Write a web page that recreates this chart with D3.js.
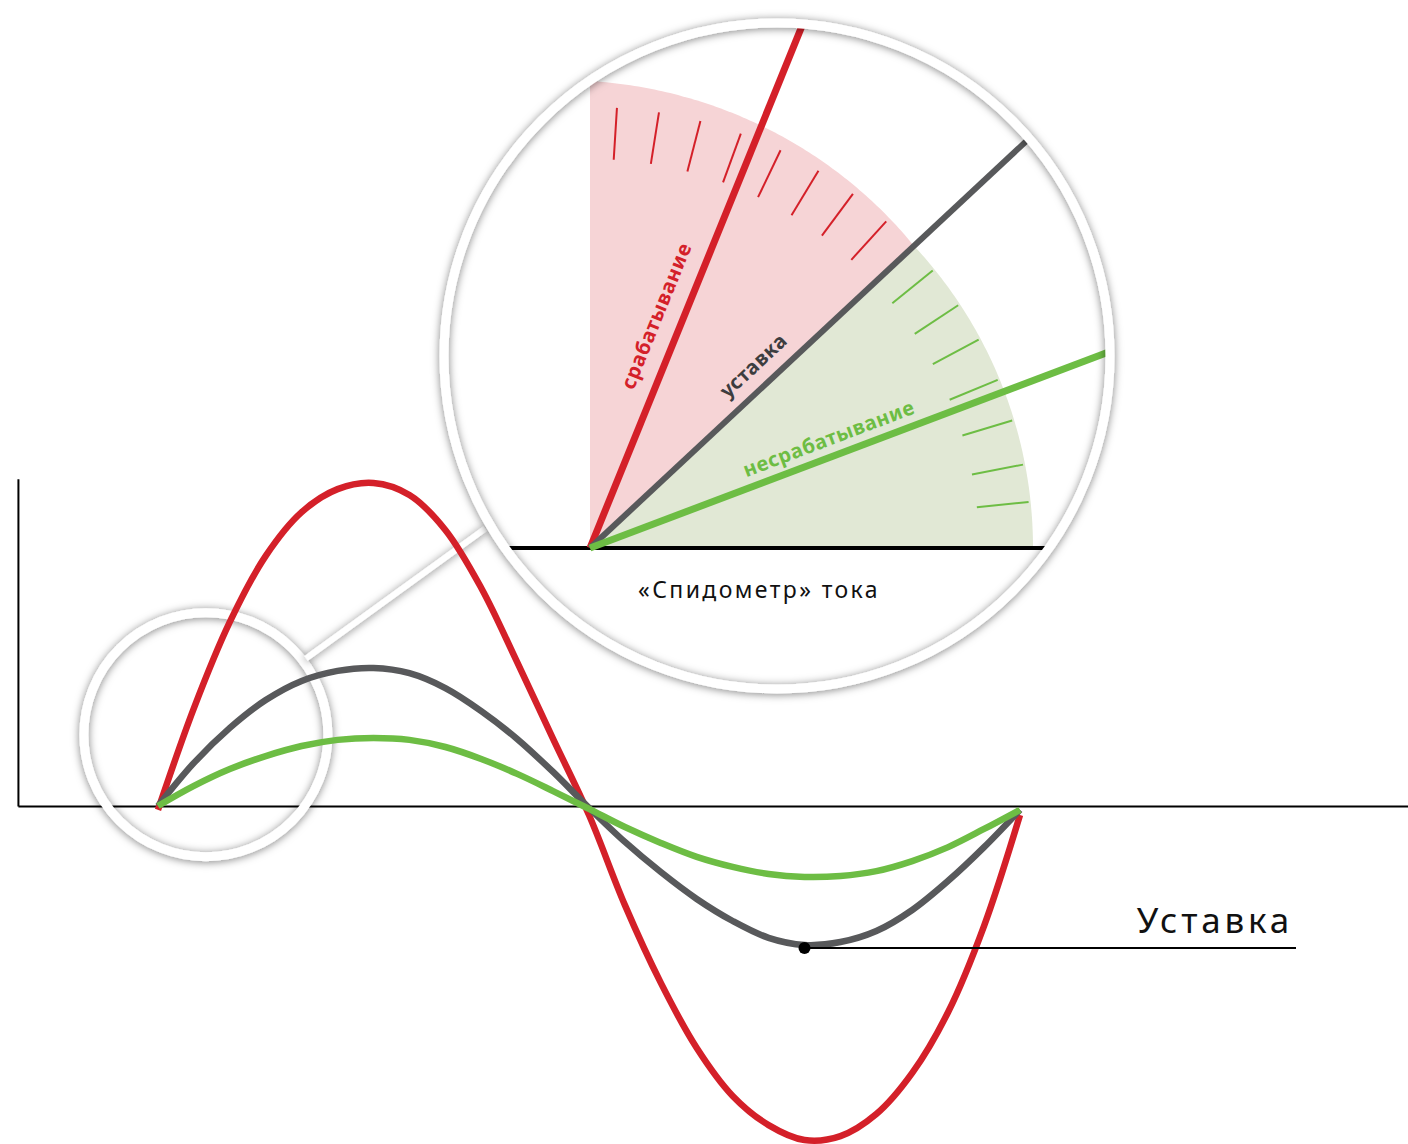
<!DOCTYPE html>
<html>
<head>
<meta charset="utf-8">
<script src="https://cdn.jsdelivr.net/npm/d3@7"></script>
<style>
  html, body { margin: 0; padding: 0; background: #fff; }
  svg { display: block; }
  text { font-family: "Noto Sans", sans-serif; }
</style>
</head>
<body>
<svg id="chart" width="1408" height="1144"></svg>
<script>
// wave phase, degrees
const phases = [0, 15, 30, 45, 60, 75, 90, 105, 120, 135, 150, 165, 180,
  195, 210, 225, 240, 255, 270, 285, 300, 315, 330, 345, 360];

// current, relative units (trip peak ~ 100)
const tripCurrent = [-1.2, 30.2, 56.8, 77.2, 90.7, 97.8, 99.7, 96, 85.2, 67.3, 44.4, 20.7, -2.8,
  -30.6, -54.6, -74.7, -89.5, -98.5, -103.1, -101.9, -95.1, -82.4, -63.6, -37, -2.8];
const setpointCurrent = [0, 13.3, 24.1, 32.7, 38.6, 41.7, 42.6, 41, 36.4, 29.3, 20.7, 10.5, -0.6,
  -11.1, -20.4, -28.7, -35.5, -40.7, -42.9, -42, -38.6, -32.1, -23.1, -12.7, -1.2];
const noTripCurrent = [0, 6.2, 11.4, 15.4, 18.5, 20.4, 21, 20.4, 18.2, 14.5, 9.9, 4.6, -0.9,
  -6.5, -11.4, -15.7, -18.8, -21, -21.9, -21.6, -20.1, -17, -12.7, -7.1, -1.2];

// "speedometer" (angles in degrees from the horizontal)
const needleNames = ["trip", "setpoint", "noTrip"];
const needleAngles = [67.9, 43, 20.7];
const needleLabels = ["срабатывание", "уставка", "несрабатывание"];
const tripTickAngles = [86.5, 81, 75.5, 70, 64.4, 58.8, 53.4, 47.8];
const noTripTickAngles = [39, 33.4, 28.2, 22.4, 16.8, 10.9, 6];

const gaugeCaption = "«Спидометр» тока";
const setpointCaption = "Уставка";

const colors = { trip: "#d42029", setpoint: "#58595b", noTrip: "#6dbd44" };
const labelColors = { trip: "#d42029", setpoint: "#3d3d3f", noTrip: "#6dbd44" };

const svg = d3.select("#chart");

const defs = svg.append("defs");
const shadow = defs.append("filter")
  .attr("id", "shadow")
  .attr("x", "-20%").attr("y", "-20%")
  .attr("width", "140%").attr("height", "140%");
shadow.append("feDropShadow")
  .attr("dx", 0).attr("dy", 1)
  .attr("stdDeviation", 4)
  .attr("flood-color", "#000")
  .attr("flood-opacity", 0.5);

const x = d3.scaleLinear().domain([0, 360]).range([158, 1020]);
const y = d3.scaleLinear().domain([-103.1, 100]).range([1140, 482]);

// axes (no ticks, just the lines)
const xAxisScale = d3.scaleLinear().domain([-58.5, 530]).range([x(-58.5), x(530)]);
const yAxisScale = d3.scaleLinear().domain([0, 101]).range([y(0), y(101)]);

svg.append("g")
  .attr("class", "x-axis")
  .attr("transform", `translate(0,${y(0)})`)
  .call(d3.axisBottom(xAxisScale).tickValues([]).tickSizeOuter(0))
  .select(".domain").attr("stroke", "#000").attr("stroke-width", 2);

svg.append("g")
  .attr("class", "y-axis")
  .attr("transform", `translate(${x(-58.5)},0)`)
  .call(d3.axisLeft(yAxisScale).tickValues([]).tickSizeOuter(0))
  .select(".domain").attr("stroke", "#000").attr("stroke-width", 2);

// small lens over the start of the wave
const lens = { cx: x(20), cy: y(22), r: 122 };
const bigLens = { cx: 777, cy: 356, r: 333 };

svg.append("circle")
  .attr("cx", lens.cx).attr("cy", lens.cy).attr("r", lens.r)
  .attr("fill", "none")
  .attr("stroke", "#fff")
  .attr("stroke-width", 9)
  .attr("filter", "url(#shadow)");

// connector between the lenses
const a1 = -37.3 * Math.PI / 180;
const a2 = 149.4 * Math.PI / 180;
svg.append("line")
  .attr("x1", lens.cx + 126 * Math.cos(a1)).attr("y1", lens.cy + 126 * Math.sin(a1))
  .attr("x2", bigLens.cx + 339 * Math.cos(a2)).attr("y2", bigLens.cy + 339 * Math.sin(a2))
  .attr("stroke", "#fff")
  .attr("stroke-width", 6)
  .attr("filter", "url(#shadow)");

// waves
const line = d3.line()
  .x((d, i) => x(phases[i]))
  .y((d) => y(d))
  .curve(d3.curveCatmullRom.alpha(0.5));

const waves = [
  { name: "trip", values: tripCurrent },
  { name: "setpoint", values: setpointCurrent },
  { name: "noTrip", values: noTripCurrent },
];

svg.selectAll(".wave")
  .data(waves)
  .join("path")
  .attr("class", "wave")
  .attr("d", (d) => line(d.values))
  .attr("fill", "none")
  .attr("stroke", (d) => colors[d.name])
  .attr("stroke-width", 6.5);

// setpoint marker
const minIdx = d3.minIndex(setpointCurrent);
const dotX = x(phases[minIdx]);
const dotY = y(setpointCurrent[minIdx]) + 3;

svg.append("line")
  .attr("x1", dotX).attr("y1", dotY)
  .attr("x2", 1296).attr("y2", dotY)
  .attr("stroke", "#000")
  .attr("stroke-width", 2);

svg.append("circle")
  .attr("cx", dotX).attr("cy", dotY).attr("r", 6)
  .attr("fill", "#000");

svg.append("text")
  .attr("x", 1293)
  .attr("y", 933)
  .attr("text-anchor", "end")
  .attr("font-size", 35)
  .attr("font-weight", 400)
  .attr("letter-spacing", 3.8)
  .attr("fill", "#111")
  .text(setpointCaption);

// big lens with the "speedometer"
const big = svg.append("g")
  .attr("transform", `translate(${bigLens.cx},${bigLens.cy})`);

defs.append("clipPath")
  .attr("id", "lens-clip")
  .append("circle")
  .attr("r", bigLens.r - 4);

big.append("circle")
  .attr("r", bigLens.r)
  .attr("fill", "#fff");

const inner = big.append("g").attr("clip-path", "url(#lens-clip)");
const gauge = inner.append("g").attr("transform", "translate(-187,192)");

const rad = (deg) => deg * Math.PI / 180;

// zone outlines: the trip zone bulges towards the top
const tripRadius = d3.scaleLinear().domain([needleAngles[1], 90]).range([443, 467]);
const noTripRadius = () => 443;

const zonePath = (from, to, radius) => {
  const pts = d3.range(from, to + 0.001, 0.5).map((a) => [rad(90 - a), radius(a)]);
  return d3.lineRadial()(pts) + "L0,0Z";
};

gauge.append("path")
  .attr("d", zonePath(needleAngles[1], 90.4, tripRadius))
  .attr("fill", "#f6d4d6");

gauge.append("path")
  .attr("d", zonePath(0, needleAngles[1], noTripRadius))
  .attr("fill", "#e1e8d5");

const tickLine = (deg) => {
  const c = Math.cos(rad(deg)), s = Math.sin(rad(deg));
  return { x1: 389 * c, y1: -389 * s, x2: 441 * c, y2: -441 * s };
};

const drawTicks = (cls, angles, color) => {
  gauge.selectAll("." + cls)
    .data(angles)
    .join("line")
    .attr("class", cls)
    .each(function (d) {
      const t = tickLine(d);
      d3.select(this).attr("x1", t.x1).attr("y1", t.y1).attr("x2", t.x2).attr("y2", t.y2);
    })
    .attr("stroke", color)
    .attr("stroke-width", 2);
};
drawTicks("tick-trip", tripTickAngles, colors.trip);
drawTicks("tick-notrip", noTripTickAngles, colors.noTrip);

// base line
gauge.append("line")
  .attr("x1", -120).attr("y1", 0)
  .attr("x2", 600).attr("y2", 0)
  .attr("stroke", "#000")
  .attr("stroke-width", 4);

const needles = needleNames.map((name, i) => ({ name, angle: needleAngles[i], label: needleLabels[i] }));

gauge.selectAll(".needle")
  .data(needles)
  .join("line")
  .attr("class", "needle")
  .attr("x1", 0).attr("y1", 0)
  .attr("x2", (d) => 700 * Math.cos(rad(d.angle)))
  .attr("y2", (d) => -700 * Math.sin(rad(d.angle)))
  .attr("stroke", (d) => colors[d.name])
  .attr("stroke-width", (d) => (d.name === "setpoint" ? 6 : 7));

// labels along the needles: distance from origin, offset from line
const labelPos = { trip: [240, 19], setpoint: [244, 15], noTrip: [262, 11] };

gauge.selectAll(".needle-label")
  .data(needles)
  .join("text")
  .attr("class", "needle-label")
  .attr("transform", (d) => {
    const [t] = labelPos[d.name];
    return `translate(${t * Math.cos(rad(d.angle))},${-t * Math.sin(rad(d.angle))}) rotate(${-d.angle})`;
  })
  .attr("y", (d) => -labelPos[d.name][1])
  .attr("text-anchor", "middle")
  .attr("font-size", 20)
  .attr("font-weight", 700)
  .attr("letter-spacing", 0.6)
  .attr("fill", (d) => labelColors[d.name])
  .text((d) => d.label);

gauge.append("text")
  .attr("x", 169)
  .attr("y", 50)
  .attr("text-anchor", "middle")
  .attr("font-size", 23)
  .attr("letter-spacing", 2.4)
  .attr("fill", "#111")
  .text(gaugeCaption);

big.append("circle")
  .attr("r", bigLens.r)
  .attr("fill", "none")
  .attr("stroke", "#fff")
  .attr("stroke-width", 9)
  .attr("filter", "url(#shadow)");
</script>
</body>
</html>
